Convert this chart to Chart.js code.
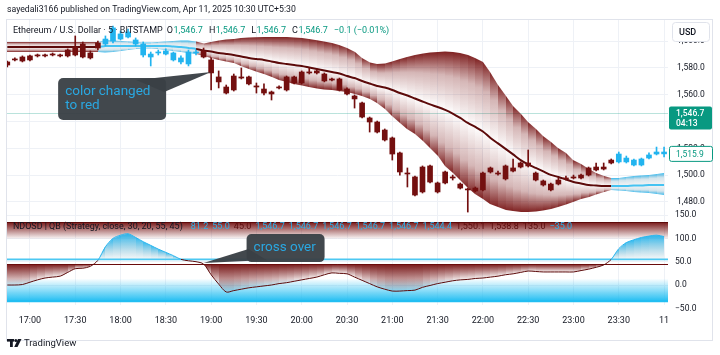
<!DOCTYPE html>
<html>
<head>
<meta charset="utf-8">
<title>ETHUSD 5m - NDOSD</title>
<script src="https://cdn.jsdelivr.net/npm/chart.js@4.4.1/dist/chart.umd.min.js"></script>
<style>
  html, body { margin: 0; padding: 0; background: #ffffff; }
  canvas { display: block; }
</style>
</head>
<body>
<canvas id="ethChart" width="720" height="355"></canvas>
<script>
// 5 minute bars, 16:45 -> 00:00 (Apr 11)
const barTimes = [
  "16:45","16:50","16:55",
  "17:00","17:05","17:10","17:15","17:20","17:25","17:30","17:35","17:40","17:45","17:50","17:55",
  "18:00","18:05","18:10","18:15","18:20","18:25","18:30","18:35","18:40","18:45","18:50","18:55",
  "19:00","19:05","19:10","19:15","19:20","19:25","19:30","19:35","19:40","19:45","19:50","19:55",
  "20:00","20:05","20:10","20:15","20:20","20:25","20:30","20:35","20:40","20:45","20:50","20:55",
  "21:00","21:05","21:10","21:15","21:20","21:25","21:30","21:35","21:40","21:45","21:50","21:55",
  "22:00","22:05","22:10","22:15","22:20","22:25","22:30","22:35","22:40","22:45","22:50","22:55",
  "23:00","23:05","23:10","23:15","23:20","23:25","23:30","23:35","23:40","23:45","23:50","23:55",
  "00:00"
];

const opens = [
  1582.2, 1586.0, 1585.2, 1586.0, 1589.0, 1589.7, 1589.7, 1589.7, 1589.0, 1589.7,
  1597.9, 1587.5, 1594.9, 1597.9, 1600.1, 1605.4, 1603.1, 1600.9, 1597.9, 1590.4,
  1591.2, 1592.7, 1591.2, 1587.5, 1583.0, 1591.9, 1588.2, 1586.0, 1573.3, 1565.8,
  1563.6, 1573.3, 1573.3, 1566.6, 1564.3, 1562.1, 1565.1, 1563.6, 1568.8, 1568.8,
  1577.0, 1576.3, 1575.5, 1571.8, 1571.8, 1564.3, 1559.1, 1553.9, 1542.7, 1539.7,
  1533.7, 1527.8, 1516.6, 1501.6, 1498.7, 1487.5, 1506.9, 1494.2, 1494.2, 1498.7,
  1493.4, 1489.7, 1488.2, 1489.0, 1502.4, 1501.6, 1497.2, 1503.1, 1506.1, 1506.9,
  1501.6, 1495.7, 1493.4, 1493.4, 1497.2, 1497.9, 1497.9, 1500.1, 1503.9, 1504.6,
  1509.1, 1509.9, 1512.8, 1511.3, 1507.6, 1512.8, 1515.8, 1517.3
];
const highs = [
  1585.2, 1587.5, 1589.0, 1589.7, 1590.4, 1590.4, 1591.2, 1590.4, 1594.2, 1603.9,
  1599.4, 1592.7, 1600.1, 1603.9, 1611.3, 1607.6, 1609.1, 1602.4, 1599.4, 1591.9,
  1593.4, 1594.2, 1591.9, 1589.0, 1593.4, 1593.4, 1594.9, 1587.5, 1577.8, 1567.3,
  1575.5, 1580.0, 1574.0, 1568.8, 1568.1, 1562.8, 1566.6, 1574.0, 1574.0, 1577.8,
  1580.0, 1578.5, 1576.3, 1572.5, 1572.5, 1565.1, 1559.9, 1554.6, 1543.4, 1540.4,
  1534.5, 1528.5, 1517.3, 1505.4, 1499.4, 1506.9, 1507.6, 1494.9, 1503.1, 1500.1,
  1494.2, 1490.4, 1491.2, 1502.4, 1506.1, 1503.1, 1507.6, 1512.1, 1509.9, 1518.8,
  1502.4, 1496.4, 1494.2, 1497.9, 1499.4, 1500.1, 1500.9, 1506.1, 1509.1, 1509.1,
  1512.1, 1517.3, 1514.3, 1512.1, 1512.8, 1516.6, 1521.0, 1521.0
];
const lows = [
  1580.7, 1585.2, 1584.5, 1585.2, 1588.2, 1588.2, 1589.0, 1588.2, 1588.2, 1589.0,
  1587.5, 1586.7, 1593.4, 1596.4, 1598.7, 1600.9, 1602.4, 1596.4, 1588.2, 1581.5,
  1589.7, 1589.7, 1585.2, 1583.0, 1581.5, 1589.7, 1587.5, 1563.6, 1565.1, 1560.6,
  1562.8, 1571.8, 1567.3, 1561.3, 1559.9, 1556.1, 1564.3, 1562.8, 1568.1, 1568.1,
  1575.5, 1575.5, 1569.6, 1570.3, 1562.8, 1559.9, 1550.1, 1542.7, 1532.2, 1531.5,
  1525.5, 1511.3, 1500.1, 1491.2, 1484.5, 1486.7, 1494.2, 1486.7, 1493.4, 1496.4,
  1489.7, 1472.5, 1487.5, 1488.2, 1501.6, 1500.1, 1496.4, 1502.4, 1505.4, 1506.1,
  1495.7, 1491.9, 1488.2, 1492.7, 1496.4, 1497.2, 1497.2, 1499.4, 1503.1, 1503.9,
  1508.4, 1509.1, 1509.1, 1506.9, 1506.9, 1512.1, 1515.1, 1513.6
];
const closes = [
  1584.5, 1586.7, 1588.2, 1589.0, 1589.7, 1589.0, 1590.4, 1589.0, 1593.4, 1595.7,
  1588.2, 1591.2, 1598.7, 1601.6, 1609.9, 1601.6, 1606.9, 1597.9, 1589.7, 1588.2,
  1591.9, 1590.4, 1586.0, 1584.5, 1591.9, 1591.2, 1592.7, 1576.3, 1569.6, 1561.3,
  1574.0, 1572.5, 1568.1, 1565.8, 1561.3, 1560.6, 1565.8, 1573.3, 1573.3, 1577.0,
  1576.3, 1577.8, 1570.3, 1571.0, 1563.6, 1560.6, 1556.9, 1543.4, 1539.7, 1532.2,
  1526.3, 1515.8, 1502.4, 1500.9, 1485.2, 1506.1, 1494.9, 1487.5, 1502.4, 1497.9,
  1490.4, 1489.0, 1490.4, 1501.6, 1505.4, 1500.9, 1506.9, 1505.4, 1509.1, 1509.1,
  1496.4, 1492.7, 1489.0, 1496.4, 1497.9, 1498.7, 1500.1, 1505.4, 1506.1, 1506.1,
  1511.3, 1515.8, 1509.9, 1507.6, 1512.1, 1515.1, 1517.3, 1515.9
];

// 1 = bullish (cyan) state of the strategy, 0 = bearish (red)
const trendUp = [
  0,0,0,0,0,0,0,0,0,0,
  0,0,0,1,1,1,1,1,1,1,
  1,1,1,1,1,1,0,0,0,0,
  0,0,0,0,0,0,0,0,0,0,
  0,0,0,0,0,0,0,0,0,0,
  0,0,0,0,0,0,0,0,0,0,
  0,0,0,0,0,0,0,0,0,0,
  0,0,0,0,0,0,0,0,0,0,
  0,1,1,1,1,1,1,1
];

// gradient band on price
const bandUpper = [
  1599.4, 1599.4, 1599.4, 1599.4, 1599.4, 1599.4, 1599.4, 1599.4, 1599.4, 1599.4,
  1599.4, 1599.4, 1599.4, 1600.9, 1600.5, 1600.2, 1599.8, 1599.4, 1599.0, 1599.0,
  1599.4, 1599.8, 1600.2, 1600.5, 1600.5, 1599.8, 1598.3, 1599.4, 1600.5, 1601.3,
  1601.6, 1602.4, 1602.8, 1603.0, 1603.1, 1603.1, 1603.1, 1603.1, 1602.8, 1602.4,
  1601.6, 1600.7, 1599.8, 1598.7, 1597.2, 1594.9, 1591.9, 1587.5, 1584.1, 1583.0,
  1583.4, 1584.9, 1586.7, 1588.2, 1589.7, 1590.8, 1591.6, 1591.9, 1592.3, 1591.9,
  1591.2, 1589.7, 1587.5, 1584.5, 1577.0, 1567.3, 1559.1, 1551.6, 1545.7, 1539.7,
  1534.5, 1529.3, 1524.8, 1520.3, 1516.6, 1511.3, 1508.4, 1504.6, 1501.6, 1499.4,
  1497.9, 1497.9, 1498.7, 1499.4, 1499.8, 1500.2, 1500.9, 1501.6
];
const bandMid = [
  1595.7, 1595.7, 1595.7, 1595.7, 1595.7, 1595.7, 1595.7, 1595.7, 1595.7, 1595.7,
  1595.7, 1595.7, 1595.7, 1596.4, 1596.4, 1596.4, 1596.4, 1596.4, 1596.4, 1596.4,
  1596.4, 1596.4, 1596.0, 1595.7, 1594.9, 1594.2, 1593.1, 1592.3, 1591.2, 1590.5,
  1589.7, 1588.6, 1587.5, 1586.7, 1586.0, 1584.9, 1583.7, 1583.0, 1582.2, 1581.5,
  1580.4, 1579.3, 1578.1, 1577.0, 1575.9, 1574.0, 1572.5, 1570.3, 1568.4, 1566.6,
  1565.4, 1563.6, 1561.3, 1559.5, 1557.2, 1555.0, 1552.8, 1550.9, 1548.7, 1546.0,
  1542.7, 1539.0, 1536.0, 1532.6, 1527.8, 1523.7, 1519.6, 1515.5, 1511.3, 1508.0,
  1505.4, 1502.8, 1500.2, 1498.7, 1496.8, 1494.9, 1493.8, 1492.7, 1492.3, 1491.9,
  1491.9, 1491.9, 1491.9, 1492.3, 1492.3, 1492.7, 1492.7, 1492.7
];
const bandLower = [
  1591.9, 1591.9, 1591.9, 1591.9, 1591.9, 1591.9, 1591.9, 1591.9, 1591.9, 1591.9,
  1591.9, 1591.9, 1591.9, 1591.6, 1591.9, 1592.7, 1593.4, 1594.2, 1594.6, 1594.6,
  1594.2, 1593.4, 1592.7, 1591.9, 1591.2, 1590.5, 1589.0, 1587.5, 1586.0, 1584.9,
  1583.7, 1581.5, 1579.3, 1577.4, 1575.5, 1573.3, 1571.0, 1569.6, 1568.1, 1566.9,
  1565.8, 1564.7, 1564.0, 1563.6, 1562.8, 1562.1, 1560.6, 1559.1, 1556.9, 1553.9,
  1549.4, 1544.2, 1539.0, 1534.5, 1530.8, 1525.5, 1520.3, 1514.3, 1506.9, 1501.6,
  1496.4, 1490.5, 1486.0, 1482.2, 1478.5, 1476.3, 1474.0, 1473.3, 1472.5, 1472.5,
  1472.9, 1473.7, 1474.8, 1476.3, 1478.1, 1480.0, 1482.2, 1483.7, 1485.6, 1487.5,
  1489.0, 1488.6, 1488.2, 1487.5, 1487.1, 1486.7, 1486.0, 1485.2
];

// NDOSD oscillator
const oscValues = [
  0, 0, 1, 6, 11, 15, 17, 19, 27, 35,
  36, 40, 53, 82, 100, 107, 110, 102, 93, 85,
  77, 70, 63, 55, 52, 50, 45, 22, 2, -15,
  -12, -9, -6, -4, -2, 0, 3, 5, 8, 11,
  14, 17, 22, 26, 25, 24, 17, 10, 3, -4,
  -9, -13, -13, -12, -11, -5, -1, 3, 6, 9,
  11, 12, 14, 15, 17, 19, 22, 24, 27, 30,
  29, 28, 28, 28, 28, 28, 31, 34, 38, 43,
  55, 78, 91, 97, 102, 105, 107, 104
];
const oscLevels = { overbought: 135, high: 55, low: 45, oversold: -35 };

const timeTicks = ["17:00","17:30","18:00","18:30","19:00","19:30","20:00","20:30",
                   "21:00","21:30","22:00","22:30","23:00","23:30","00:00"];
const timeTickLabels = ["17:00","17:30","18:00","18:30","19:00","19:30","20:00","20:30",
                        "21:00","21:30","22:00","22:30","23:00","23:30","11"];

const headerText = "sayedali3166 published on TradingView.com, Apr 11, 2025 10:30 UTC+5:30";
const symbolText = "Ethereum / U.S. Dollar · 5 · BITSTAMP";
const ohlcLabels = ["O", "H", "L", "C"];
const ohlcValues = [1546.7, 1546.7, 1546.7, 1546.7];
const changeText = "−0.1 (−0.01%)";
const lastPrice = 1546.7;
const barCountdown = "04:13";
const strategyPrice = 1515.9;
const oscTitle = "NDOSD | QB (Strategy, close, 30, 20, 55, 45)";
const oscLegendValues = [81.2, 55.0, 45.0, 1546.7, 1546.7, 1546.7, 1546.7, 1546.7, 1544.4, 1550.1, 1538.8, 135.0, -35.0];
const oscLegendUp = [1, 1, 0, 1, 1, 1, 1, 1, 1, 0, 0, 0, 1];
const notes = [
  { lines: ["color changed", "to red"], time: "19:00", value: 1577, pane: "y" },
  { lines: ["cross over"], time: "18:55", value: 47, pane: "y2" }
];

// ---------------------------------------------------------------
const FONT = "Roboto, 'Open Sans', sans-serif";
const TEXT = "#131722";
const GREEN = "#089981";
const MAROON = "#730f0f";
const CYAN = "#22b4ef";
const GRID = "#eef1f6";

function toMinutes(t) {
  const [h, m] = t.split(":").map(Number);
  let v = h * 60 + m;
  if (v < 600) v += 1440;
  return v;
}
function fmt(v) {
  return v.toLocaleString("en-US", { minimumFractionDigits: 1, maximumFractionDigits: 1 }).replace("-", "−");
}
// pick a font size so that the text spans the given width
function fitFont(ctx, text, width) {
  ctx.font = `10px ${FONT}`;
  const size = 10 * width / ctx.measureText(text).width;
  ctx.font = `${size.toFixed(2)}px ${FONT}`;
}

const xs = barTimes.map(toMinutes);
const tickMinutes = timeTicks.map(toMinutes);
const candleColors = trendUp.map(t => (t ? CYAN : MAROON));

const bandAndZones = {
  id: "bandAndZones",
  beforeDatasetsDraw(chart) {
    const { ctx, chartArea: a, scales: { x, y, y2 } } = chart;
    const px = v => Math.round(x.getPixelForValue(v));
    ctx.save();

    // main pane
    ctx.save();
    ctx.beginPath();
    ctx.rect(a.left, y.top, a.right - a.left, y.bottom - y.top);
    ctx.clip();

    const lp = Math.round(y.getPixelForValue(lastPrice)) + 0.5;
    ctx.strokeStyle = "rgba(8,153,129,0.28)";
    ctx.lineWidth = 1;
    ctx.beginPath(); ctx.moveTo(a.left, lp); ctx.lineTo(a.right, lp); ctx.stroke();

    for (let i = 0; i < xs.length - 1; i++) {
      const x0 = px(xs[i]), x1 = px(xs[i + 1]);
      const u0 = y.getPixelForValue(bandUpper[i]), u1 = y.getPixelForValue(bandUpper[i + 1]);
      const m0 = y.getPixelForValue(bandMid[i]), m1 = y.getPixelForValue(bandMid[i + 1]);
      const l0 = y.getPixelForValue(bandLower[i]), l1 = y.getPixelForValue(bandLower[i + 1]);
      const up = trendUp[i + 1] === 1;
      const edge = up ? "rgba(34,180,239,0.92)" : "rgba(116,14,14,0.92)";
      const half = up ? "rgba(120,175,200,0.32)" : "rgba(116,14,14,0.3)";
      const core = up ? "rgba(150,160,170,0.1)" : "rgba(116,14,14,0.0)";

      let g = ctx.createLinearGradient(0, Math.min(u0, u1), 0, Math.max(m0, m1));
      g.addColorStop(0, edge); g.addColorStop(0.4, half); g.addColorStop(1, core);
      ctx.fillStyle = g;
      ctx.beginPath();
      ctx.moveTo(x0, u0); ctx.lineTo(x1, u1); ctx.lineTo(x1, m1); ctx.lineTo(x0, m0);
      ctx.closePath(); ctx.fill();

      g = ctx.createLinearGradient(0, Math.min(m0, m1), 0, Math.max(l0, l1));
      g.addColorStop(0, core); g.addColorStop(0.6, half); g.addColorStop(1, edge);
      ctx.fillStyle = g;
      ctx.beginPath();
      ctx.moveTo(x0, m0); ctx.lineTo(x1, m1); ctx.lineTo(x1, l1); ctx.lineTo(x0, l0);
      ctx.closePath(); ctx.fill();
    }
    ctx.restore();

    // oscillator pane
    ctx.save();
    ctx.beginPath();
    ctx.rect(a.left, y2.top, a.right - a.left, y2.bottom - y2.top);
    ctx.clip();
    const w = a.right - a.left;

    const yOB = y2.getPixelForValue(oscLevels.overbought);
    const yOBf = y2.getPixelForValue(98);
    let g = ctx.createLinearGradient(0, yOB, 0, yOBf);
    g.addColorStop(0, "rgba(112,10,10,0.95)"); g.addColorStop(1, "rgba(112,10,10,0)");
    ctx.fillStyle = g;
    ctx.fillRect(a.left, yOB, w, yOBf - yOB);

    const yOS = y2.getPixelForValue(oscLevels.oversold);
    const yOSf = y2.getPixelForValue(14);
    g = ctx.createLinearGradient(0, yOSf, 0, yOS);
    g.addColorStop(0, "rgba(34,190,242,0)"); g.addColorStop(1, "rgba(34,190,242,1)");
    ctx.fillStyle = g;
    ctx.fillRect(a.left, yOSf, w, yOS - yOSf);

    const hi = y2.getPixelForValue(oscLevels.high);
    const lo = y2.getPixelForValue(oscLevels.low);
    for (let i = 0; i < xs.length - 1; i++) {
      const x0 = px(xs[i]), x1 = px(xs[i + 1]);
      const o0 = y2.getPixelForValue(oscValues[i]), o1 = y2.getPixelForValue(oscValues[i + 1]);
      if (Math.min(o0, o1) < hi) {
        ctx.save();
        ctx.beginPath(); ctx.rect(x0, y2.top, x1 - x0, hi - y2.top); ctx.clip();
        g = ctx.createLinearGradient(0, Math.min(o0, o1), 0, hi);
        g.addColorStop(0, "rgba(33,182,240,0.95)"); g.addColorStop(1, "rgba(120,170,190,0.08)");
        ctx.fillStyle = g;
        ctx.beginPath();
        ctx.moveTo(x0, o0); ctx.lineTo(x1, o1); ctx.lineTo(x1, hi); ctx.lineTo(x0, hi);
        ctx.closePath(); ctx.fill();
        ctx.restore();
      }
      if (Math.max(o0, o1) > lo) {
        ctx.save();
        ctx.beginPath(); ctx.rect(x0, lo, x1 - x0, y2.bottom - lo); ctx.clip();
        g = ctx.createLinearGradient(0, lo, 0, Math.max(o0, o1));
        g.addColorStop(0, "rgba(112,10,10,0.95)"); g.addColorStop(1, "rgba(112,10,10,0.04)");
        ctx.fillStyle = g;
        ctx.beginPath();
        ctx.moveTo(x0, lo); ctx.lineTo(x1, lo); ctx.lineTo(x1, o1); ctx.lineTo(x0, o0);
        ctx.closePath(); ctx.fill();
        ctx.restore();
      }
    }

    const hline = (py, color, lw) => {
      ctx.strokeStyle = color; ctx.lineWidth = lw;
      ctx.beginPath(); ctx.moveTo(a.left, py); ctx.lineTo(a.right, py); ctx.stroke();
    };
    hline(Math.round(yOB) + 0.5, "#5e0a0a", 1);
    hline(yOS, "#22bef2", 2);
    hline(hi, "#4cc8f2", 1.6);
    hline(Math.round(lo) + 0.5, "#6a0c0c", 1);
    ctx.restore();

    ctx.restore();
  }
};

const overlay = {
  id: "overlay",
  afterDraw(chart) {
    const { ctx, chartArea: a, scales: { x, y, y2 } } = chart;
    ctx.save();
    ctx.textBaseline = "middle";
    ctx.textAlign = "left";

    // frame
    ctx.strokeStyle = "#e0e3eb";
    ctx.lineWidth = 1;
    ctx.strokeRect(6.5, 19.5, 706, 321);

    // price labels
    const axisX = a.right;
    const lp = y.getPixelForValue(lastPrice);
    ctx.fillStyle = GREEN;
    ctx.beginPath(); ctx.roundRect(axisX + 1, lp - 6, 43, 23, 2); ctx.fill();
    ctx.fillStyle = "#ffffff";
    ctx.font = `500 8.5px ${FONT}`;
    ctx.fillText(fmt(lastPrice), axisX + 8, lp + 1);
    ctx.fillText(barCountdown, axisX + 8, lp + 11);

    const sp = y.getPixelForValue(strategyPrice);
    ctx.fillStyle = "#ffffff";
    ctx.strokeStyle = GREEN;
    ctx.beginPath(); ctx.roundRect(axisX + 1.5, sp - 7.5, 43, 15, 2); ctx.fill(); ctx.stroke();
    ctx.fillStyle = GREEN;
    ctx.font = `8.5px ${FONT}`;
    ctx.fillText(fmt(strategyPrice), axisX + 8, sp + 0.5);

    // -50 tick below the oscillator pane
    ctx.fillStyle = TEXT;
    ctx.fillText(fmt(-50), axisX + 7, y2.getPixelForValue(-50) + 1);

    // currency box
    ctx.fillStyle = "#ffffff";
    ctx.strokeStyle = "#e0e3eb";
    ctx.beginPath(); ctx.roundRect(axisX + 4.5, 22.5, 37, 19, 3); ctx.fill(); ctx.stroke();
    ctx.fillStyle = TEXT;
    ctx.font = `500 9px ${FONT}`;
    ctx.fillText("USD", axisX + 11, 32.5);

    // header
    fitFont(ctx, headerText, 289);
    ctx.fillStyle = TEXT;
    ctx.fillText(headerText, 7, 10);

    // symbol legend
    fitFont(ctx, symbolText, 150);
    let cx = 13;
    const run = (txt, color, gap) => {
      ctx.fillStyle = color; ctx.fillText(txt, cx, 31);
      cx += ctx.measureText(txt).width + gap;
    };
    run(symbolText, TEXT, 4);
    ohlcLabels.forEach((lab, k) => { run(lab, TEXT, 0.5); run(fmt(ohlcValues[k]), GREEN, 6); });
    run(changeText, GREEN, 0);

    // oscillator legend
    const ly = y2.top + 12;
    cx = 13;
    fitFont(ctx, oscTitle, 170);
    ctx.fillStyle = TEXT;
    ctx.fillText(oscTitle, cx, ly);
    cx += ctx.measureText(oscTitle).width + 8;
    ctx.font = `9px ${FONT}`;
    oscLegendValues.forEach((v, k) => {
      const s = fmt(v);
      ctx.fillStyle = oscLegendUp[k] ? "#2bb3ec" : "#5b0d0d";
      ctx.fillText(s, cx, ly);
      cx += ctx.measureText(s).width + 4;
    });

    // callouts
    notes.forEach((n, k) => {
      const scale = n.pane === "y" ? y : y2;
      const tip = { x: x.getPixelForValue(toMinutes(n.time)), y: scale.getPixelForValue(n.value) };
      let box, w1, w2;
      if (k === 0) {
        box = { x: tip.x - 153, y: tip.y + 6, w: 108, h: 42 };
        w1 = [box.x + box.w - 30, box.y + 2];
        w2 = [box.x + box.w - 2, box.y + 14];
      } else {
        box = { x: tip.x + 43, y: tip.y - 29, w: 78, h: 28 };
        w1 = [box.x + 2, box.y + 15];
        w2 = [box.x + 20, box.y + box.h - 2];
      }
      ctx.fillStyle = "rgba(58,65,70,0.96)";
      ctx.beginPath(); ctx.roundRect(box.x, box.y, box.w, box.h, 5); ctx.fill();
      ctx.beginPath();
      ctx.moveTo(w1[0], w1[1]); ctx.lineTo(tip.x, tip.y); ctx.lineTo(w2[0], w2[1]);
      ctx.closePath(); ctx.fill();
      ctx.fillStyle = "#2aa8e2";
      ctx.font = `13.5px ${FONT}`;
      n.lines.forEach((t, j) => {
        const ty = n.lines.length > 1 ? box.y + 14 + j * 14 : box.y + box.h / 2;
        ctx.fillText(t, box.x + 7, ty);
      });
    });

    // TradingView mark
    ctx.fillStyle = TEXT;
    ctx.fillRect(7, 339, 7, 2.6);
    ctx.fillRect(10, 339, 2.8, 8);
    ctx.beginPath(); ctx.arc(15.8, 340.4, 1.5, 0, Math.PI * 2); ctx.fill();
    ctx.beginPath();
    ctx.moveTo(18, 339); ctx.lineTo(21.5, 339); ctx.lineTo(17.5, 347); ctx.lineTo(14.2, 347);
    ctx.closePath(); ctx.fill();
    ctx.font = `9.5px ${FONT}`;
    ctx.fillText("TradingView", 24, 343.5);

    ctx.restore();
  }
};

const ctx = document.getElementById("ethChart").getContext("2d");
const ethChart = new Chart(ctx, {
  type: "bar",
  data: {
    datasets: [
      {
        label: "bodies",
        data: xs.map((v, i) => ({ x: v, y: [opens[i], closes[i]] })),
        backgroundColor: candleColors,
        borderWidth: 0,
        barThickness: 5,
        minBarLength: 1,
        grouped: false,
        yAxisID: "y",
        order: 0
      },
      {
        label: "wicks",
        data: xs.map((v, i) => ({ x: v, y: [lows[i], highs[i]] })),
        backgroundColor: candleColors,
        borderWidth: 0,
        barThickness: 1,
        grouped: false,
        yAxisID: "y",
        order: 1
      },
      {
        type: "line",
        label: "basis",
        data: xs.map((v, i) => ({ x: v, y: bandMid[i] })),
        yAxisID: "y",
        borderColor: "#5c0a0a",
        borderWidth: 2,
        pointRadius: 0,
        tension: 0.3,
        order: 2,
        segment: {
          borderColor: c => (trendUp[c.p1DataIndex] ? "#45c3f2" : "#5c0a0a")
        }
      },
      {
        type: "line",
        label: "NDOSD",
        data: xs.map((v, i) => ({ x: v, y: oscValues[i] })),
        yAxisID: "y2",
        borderColor: "#5c0a0a",
        borderWidth: 1,
        pointRadius: 0,
        tension: 0.3,
        order: 3,
        segment: {
          borderColor: c => (oscValues[c.p0DataIndex] + oscValues[c.p1DataIndex] > 110 ? "#2ab5ee" : "#5c0a0a")
        }
      }
    ]
  },
  options: {
    responsive: false,
    animation: false,
    devicePixelRatio: 1,
    events: [],
    layout: { padding: { left: 7, right: 8, top: 20, bottom: 15 } },
    plugins: { legend: { display: false }, tooltip: { enabled: false } },
    scales: {
      x: {
        type: "linear",
        min: 1004.8,
        max: 1442.6,
        offset: false,
        grid: { color: GRID, drawTicks: false, offset: false },
        border: { display: false },
        afterBuildTicks: s => { s.ticks = tickMinutes.map(v => ({ value: v })); },
        afterFit: s => { s.height = 35; },
        ticks: {
          autoSkip: false,
          maxRotation: 0,
          padding: 10,
          color: TEXT,
          font: { family: FONT, size: 9 },
          callback: v => {
            const k = tickMinutes.indexOf(v);
            return k >= 0 ? timeTickLabels[k] : "";
          }
        }
      },
      y: {
        position: "right",
        stack: "panes",
        stackWeight: 195,
        min: 1470.3,
        max: 1615.8,
        grid: { color: GRID, drawTicks: false },
        border: { display: false },
        afterFit: s => { s.width = 44; },
        ticks: {
          stepSize: 20,
          includeBounds: false,
          padding: 9,
          color: TEXT,
          font: { family: FONT, size: 8.5 },
          callback: v => fmt(v)
        }
      },
      y2: {
        position: "right",
        stack: "panes",
        stackWeight: 90,
        min: -42.9,
        max: 150.2,
        grid: { color: GRID, drawTicks: false },
        border: { display: false },
        afterFit: s => { s.width = 44; },
        ticks: {
          stepSize: 50,
          includeBounds: false,
          padding: 7,
          color: TEXT,
          font: { family: FONT, size: 8.5 },
          callback: v => fmt(v)
        }
      }
    }
  },
  plugins: [bandAndZones, overlay]
});
</script>
</body>
</html>
